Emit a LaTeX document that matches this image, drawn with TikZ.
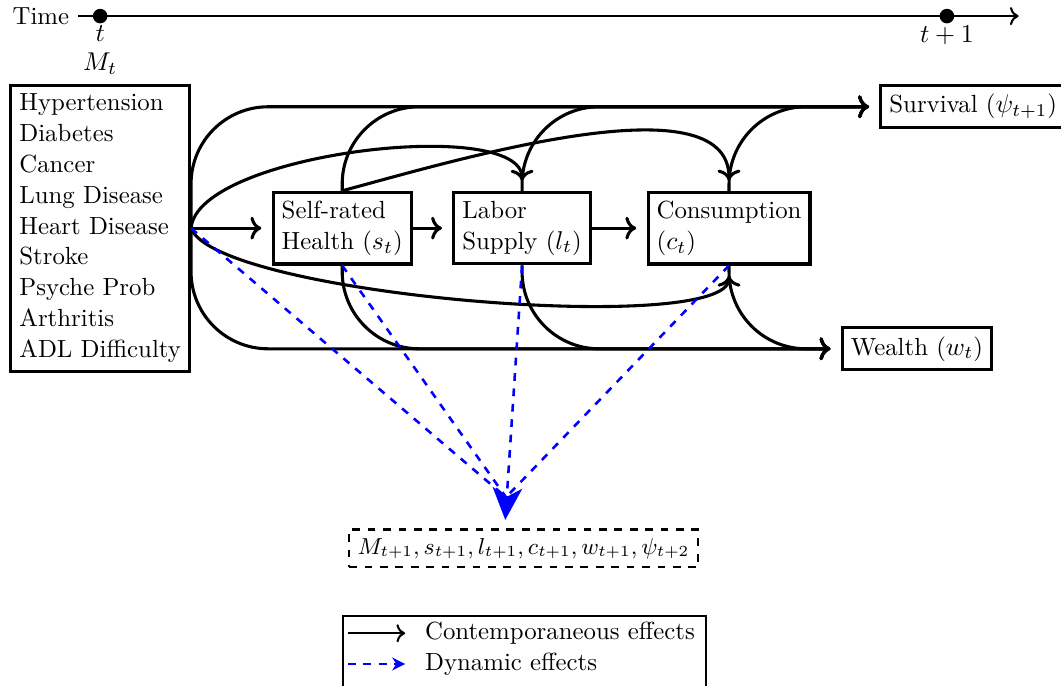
\documentclass[tikz,border=0pt]{standalone}
\usepackage{amsmath,amssymb}
\usetikzlibrary{arrows.meta,calc}

\tikzset{
	every node/.style={font=\fontsize{9.65pt}{12pt}\selectfont},
	box/.style={draw, very thick, align=left},
	cont/.style={->, very thick, shorten >=4pt},
	dyn/.style={blue, dashed, line width=1pt},
	dot/.style={circle, fill, inner sep=2pt},
}

\begin{document}
\begin{tikzpicture}
	\useasboundingbox (0,0) rectangle (14.51,-9.37);

	% Draw time line.
	\node[left] (time) at (1.07,-0.22) {Time};
	\coordinate (tend) at (13.93,-0.22);
	\draw[thick, ->] (time.east) -- (tend);
	\node[dot, label={[inner sep=0.5pt]below:$t$}] (t0) at (1.37,-0.22) {};
	\node[dot, label={[inner sep=0.5pt]below:$t+1$}] (t1) at (12.95,-0.22) {};

	% Draw boxes.
	\node[box, label=above:$M_t$] (m) at (1.37,-3.12)
		{Hypertension\\Diabetes\\Cancer\\Lung Disease\\Heart Disease\\Stroke\\Psyche Prob\\Arthritis\\ADL Difficulty};
	\node[box] (srh) at (4.68,-3.12) {Self-rated\\Health ($s_t$)};
	\node[box] (lab) at (7.14,-3.12) {Labor\\Supply ($l_t$)};
	\node[box] (con) at (9.97,-3.12) {Consumption\\($c_t$)};
	\node[box] (surv) at (13.31,-1.46) {Survival ($\psi_{t+1}$)};
	\node[box] (wealth) at (12.54,-4.77) {Wealth ($w_t$)};
	\node[draw, thick, dashed, font=\fontsize{9.2pt}{12pt}\selectfont] (next) at (7.16,-7.50)
		{$M_{t+1}, s_{t+1}, l_{t+1}, c_{t+1}, w_{t+1}, \psi_{t+2}$};

	% Contemporaneous effects.
	\draw[cont] (m.east) -- (srh.west);
	\draw[cont] (srh.east) -- (lab.west);
	\draw[cont] (lab.east) -- (con.west);
	\foreach \n in {m.east, srh.north, lab.north, con.north} {
		\draw[cont, rounded corners=30pt] (\n) |- (surv.west);
	}
	\foreach \n in {m.east, srh.south, lab.south, con.south} {
		\draw[cont, rounded corners=30pt] (\n) |- (wealth.west);
	}
	\draw[cont] (m.east) to[out=85, in=90, looseness=0.58] (lab.north);
	\draw[cont] (srh.north) to[out=15, in=90, looseness=0.75] (con.north);
	\draw[cont] (m.east) to[out=-70, in=-90, looseness=0.34] (con.south);

	% Dynamic effects.
	\coordinate (hub) at (6.92,-6.80);
	\coordinate (tip) at (6.91,-7.11);
	\foreach \n in {m.east, srh.south, con.south} {
		\draw[dyn] (\n) -- (hub);
	}
	\draw[dyn, -{Stealth[length=12.5pt, width=11.5pt, inset=3.5pt]}] (lab.south) -- (tip);

	% Legend.
	\node[draw, thick, minimum width=4.96cm, minimum height=1.3cm, anchor=north west] (legend) at (4.68,-8.41) {};
	\node[anchor=west] (lc) at (5.69,-8.66) {Contemporaneous effects};
	\node[anchor=west] (ld) at (5.69,-9.08) {Dynamic effects};
	\coordinate (ca) at (4.76,-8.66);
	\coordinate (cb) at (5.54,-8.66);
	\coordinate (da) at (4.76,-9.08);
	\coordinate (db) at (5.54,-9.08);
	\draw[thick, ->] (ca) -- (cb);
	\draw[dyn, -{Stealth[length=5pt, width=5pt]}] (da) -- (db);

\end{tikzpicture}
\end{document}
